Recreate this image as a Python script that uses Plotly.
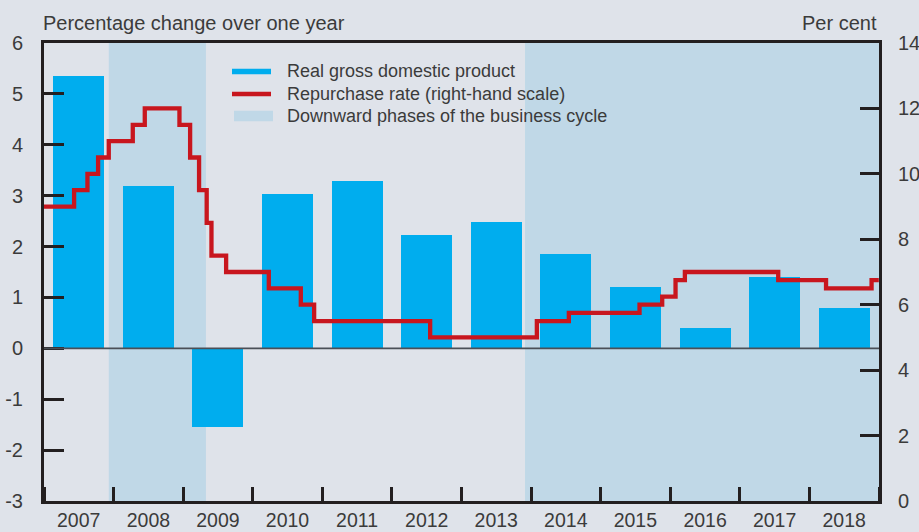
import plotly.graph_objects as go

# Real GDP growth, per cent change over one year
years = [2007, 2008, 2009, 2010, 2011, 2012, 2013, 2014, 2015, 2016, 2017, 2018]
gdp_growth = [5.36, 3.19, -1.55, 3.04, 3.28, 2.22, 2.49, 1.85, 1.2, 0.4, 1.41, 0.79]

# Repurchase rate: dates of change and the new level (per cent)
repo_dates = ["2007-01-01", "2007-06-08", "2007-08-17", "2007-10-12", "2007-12-07",
              "2008-04-11", "2008-06-13", "2008-12-12", "2009-02-06", "2009-03-25",
              "2009-05-04", "2009-05-29", "2009-08-14", "2010-03-26", "2010-09-10",
              "2010-11-19", "2012-07-20", "2014-01-31", "2014-07-18", "2015-07-24",
              "2015-11-20", "2016-01-29", "2016-03-18", "2017-07-21", "2018-03-29",
              "2018-11-23", "2018-12-31"]
repo_rate = [9.0, 9.5, 10.0, 10.5, 11.0, 11.5, 12.0, 11.5, 10.5, 9.5, 8.5, 7.5, 7.0,
             6.5, 6.0, 5.5, 5.0, 5.5, 5.75, 6.0, 6.25, 6.75, 7.0, 6.75, 6.5, 6.75, 6.75]

# Downward phases of the business cycle (start, end)
downturns = [("2007-12-07", "2009-04-30"), ("2013-11-30", "2019-01-01")]

# Axis tick values and labels
left_ticks = [-3, -2, -1, 0, 1, 2, 3, 4, 5, 6]
left_labels = [str(v) for v in left_ticks]
right_ticks = [0, 2, 4, 6, 8, 10, 12, 14]

# Legend entries
legend_labels = ["Real gross domestic product",
                 "Repurchase rate (right-hand scale)",
                 "Downward phases of the business cycle"]

BG = "#dfe3ea"
SHADE = "#c0d8e7"
BAR = "#00adee"
RED = "#c8161e"
INK = "#231f20"
TXT = "#3b3b3b"
FONT = "Liberation Sans, Arial, sans-serif"

# plot area in pixels (used to place the hand-built legend)
W, H = 919, 532
ML, MR, MT, MB = 44, 40, 43, 31
PW, PH = W - ML - MR, H - MT - MB


def px_x(px):
    return (px - ML) / PW


def px_y(py):
    return (H - MB - py) / PH


bar_x = [f"{y}-07-02" for y in years]
year_ms = 365.25 * 24 * 3600 * 1000
bar_width = 0.733 * year_ms

fig = go.Figure()

fig.add_trace(go.Bar(
    x=bar_x, y=gdp_growth, width=[bar_width] * len(years),
    marker=dict(color=BAR, line=dict(width=0)),
    name=legend_labels[0], showlegend=False, yaxis="y",
))
fig.add_trace(go.Scatter(
    x=repo_dates, y=repo_rate, mode="lines", line=dict(color=RED, width=4.3, shape="hv"),
    name=legend_labels[1], showlegend=False, yaxis="y2",
))

shapes = []
for start, end in downturns:
    shapes.append(dict(type="rect", xref="x", yref="paper", x0=start, x1=end, y0=0, y1=1,
                       fillcolor=SHADE, line=dict(width=0), layer="below"))
# zero line of the left scale
shapes.append(dict(type="line", xref="paper", yref="y", x0=0, x1=1, y0=0, y1=0,
                   line=dict(color="#4a4f57", width=1.8), layer="above"))

# legend keys
row_y = [71.5, 94, 116]
shapes.append(dict(type="line", xref="paper", yref="paper",
                   x0=px_x(232), x1=px_x(271), y0=px_y(row_y[0]), y1=px_y(row_y[0]),
                   line=dict(color=BAR, width=5.5)))
shapes.append(dict(type="line", xref="paper", yref="paper",
                   x0=px_x(232), x1=px_x(271), y0=px_y(row_y[1]), y1=px_y(row_y[1]),
                   line=dict(color=RED, width=4.6)))
shapes.append(dict(type="rect", xref="paper", yref="paper",
                   x0=px_x(234), x1=px_x(273), y0=px_y(row_y[2] - 5.3), y1=px_y(row_y[2] + 5.3),
                   fillcolor=SHADE, line=dict(width=0)))

annotations = [
    dict(text="Percentage change over one year", xref="paper", yref="paper",
         x=0, y=1, xanchor="left", yanchor="bottom", xshift=-3, yshift=7,
         showarrow=False, font=dict(size=20, color=TXT)),
    dict(text="Per cent", xref="paper", yref="paper",
         x=1, y=1, xanchor="right", yanchor="bottom", xshift=0, yshift=7,
         showarrow=False, font=dict(size=20, color=TXT)),
]
for label, ry in zip(legend_labels, row_y):
    annotations.append(dict(text=label, xref="paper", yref="paper",
                            x=px_x(285), y=px_y(ry - 0.5), xanchor="left", yanchor="middle",
                            showarrow=False, font=dict(size=18, color=TXT)))

fig.update_layout(
    width=W, height=H,
    margin=dict(l=ML, r=MR, t=MT, b=MB, autoexpand=False),
    paper_bgcolor=BG, plot_bgcolor=BG,
    font=dict(family=FONT, size=20, color=TXT),
    bargap=0,
    shapes=shapes,
    annotations=annotations,
    showlegend=False,
    xaxis=dict(
        type="date", range=["2007-01-01", "2019-01-01"], automargin=False,
        tickmode="array", tickvals=bar_x, ticktext=[str(y) for y in years],
        ticks="", showgrid=False, zeroline=False,
        showline=True, linecolor=INK, linewidth=3, mirror=True,
        ticklabelstandoff=0, tickfont=dict(size=19.5),
        minor=dict(ticks="inside", dtick="M12", tick0="2007-01-01",
                   ticklen=14, tickwidth=2.5, tickcolor=INK, showgrid=False),
    ),
    yaxis=dict(
        range=[-3, 6], automargin=False,
        tickmode="array", tickvals=left_ticks, ticktext=left_labels,
        ticks="inside", ticklen=20, tickwidth=2.5, tickcolor=INK,
        showline=True, linecolor=INK, linewidth=3,
        showgrid=False, zeroline=False, ticklabelstandoff=14,
    ),
    yaxis2=dict(
        range=[0, 14], automargin=False, overlaying="y", side="right",
        tickmode="array", tickvals=right_ticks,
        ticks="inside", ticklen=19, tickwidth=2.5, tickcolor=INK,
        showline=True, linecolor=INK, linewidth=3,
        showgrid=False, zeroline=False, ticklabelstandoff=12,
    ),
)

fig.write_html("out.html")
